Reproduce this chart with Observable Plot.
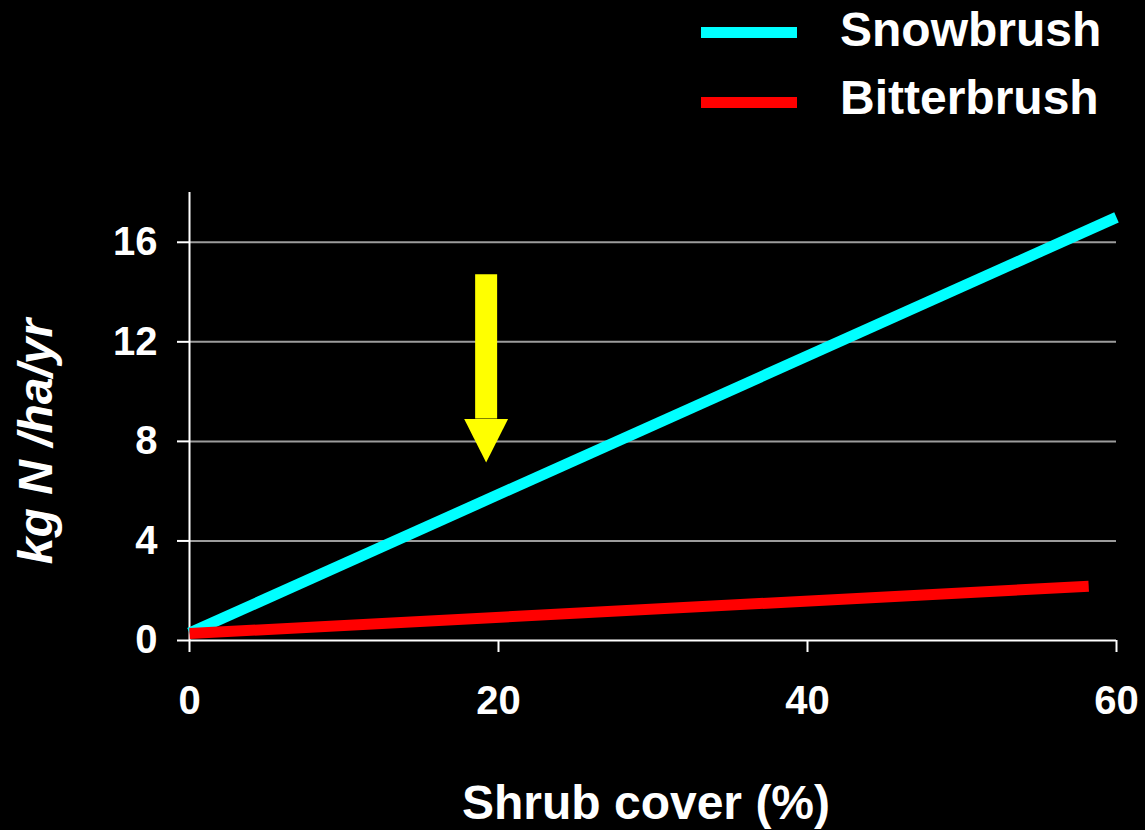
<!DOCTYPE html>
<html>
<head>
<meta charset="utf-8">
<script src="https://cdn.jsdelivr.net/npm/d3@7"></script>
<script src="https://cdn.jsdelivr.net/npm/@observablehq/plot@0.6"></script>
<style>
  html, body { margin: 0; padding: 0; background: #000; }
  body { width: 1145px; height: 830px; overflow: hidden; font-family: "Liberation Sans", Arial, sans-serif; }
  #legend { position: relative; height: 140px; width: 1145px; }
  .sw { position: absolute; left: 701px; width: 96px; height: 11px; }
  .lt { position: absolute; left: 840px; font-size: 48px; line-height: 48px; font-weight: bold; color: #fff; white-space: nowrap; }
</style>
</head>
<body>
<div id="legend"></div>
<div id="chart"></div>
<script>
// ---- data ----
const seriesNames = ["Snowbrush", "Bitterbrush"];
const seriesColors = ["#00ffff", "#ff0000"];
const shrubCover = {
  Snowbrush: [0, 60],
  Bitterbrush: [0, 58.2]
};
const nFixation = {
  Snowbrush: [0.3, 17.0],
  Bitterbrush: [0.28, 2.18]
};
const yTicks = [0, 4, 8, 12, 16];
const xTicks = [0, 20, 40, 60];
const xLabel = "Shrub cover (%)";
const yLabel = "kg N /ha/yr";
// yellow annotation arrow (data units)
const arrowX = [19.2];
const arrowTop = [14.7];
const arrowBase = [8.9];
const arrowTip = [7.15];
const arrowHalfWidth = [1.42];

// ---- table ----
const rows = [];
seriesNames.forEach(s => {
  shrubCover[s].forEach((x, i) => rows.push({series: s, x, y: nFixation[s][i]}));
});
const arrow = arrowX.map((x, i) => ({x, top: arrowTop[i], base: arrowBase[i], tip: arrowTip[i], hw: arrowHalfWidth[i]}));
const head = arrow.flatMap(a => [
  {x: a.x - a.hw, y: a.base},
  {x: a.x, y: a.tip},
  {x: a.x + a.hw, y: a.base}
]);

// ---- legend ----
const legend = document.getElementById("legend");
seriesNames.forEach((s, i) => {
  const sw = document.createElement("div");
  sw.className = "sw";
  sw.style.top = (27 + i * 70) + "px";
  sw.style.background = seriesColors[i];
  legend.appendChild(sw);
  const t = document.createElement("span");
  t.className = "lt";
  t.style.top = (6 + i * 68) + "px";
  t.textContent = s;
  legend.appendChild(t);
});

// ---- chart ----
const chart = Plot.plot({
  width: 1145,
  height: 690,
  marginLeft: 189,
  marginRight: 29,
  marginTop: 52,
  marginBottom: 190,
  style: {
    background: "#000",
    color: "#fff",
    fontFamily: "'Liberation Sans', Arial, sans-serif",
    fontSize: "40px",
    fontWeight: "bold",
    overflow: "visible"
  },
  x: {domain: [0, 60]},
  y: {domain: [0, 18]},
  color: {domain: seriesNames, range: seriesColors},
  marks: [
    Plot.gridY(yTicks.filter(d => d > 0), {stroke: "#9c9c9c", strokeOpacity: 1, strokeWidth: 2}),
    Plot.axisY({ticks: yTicks, tickSize: 12, tickPadding: 20, strokeWidth: 2, label: null, tickFormat: d => String(d)}),
    Plot.axisX({ticks: xTicks, tickSize: 12, tickPadding: 33, strokeWidth: 2, label: null, tickFormat: d => String(d)}),
    Plot.ruleX([0], {y1: 0, y2: 18, stroke: "#fff", strokeWidth: 2}),
    Plot.ruleY([0], {x1: 0, x2: 60, stroke: "#fff", strokeWidth: 2}),
    Plot.line(rows, {x: "x", y: "y", z: "series", stroke: "series", strokeWidth: 11, strokeLinecap: "butt", strokeLinejoin: "miter"}),
    Plot.ruleX(arrow, {x: "x", y1: "top", y2: "base", stroke: "#ffff00", strokeWidth: 22}),
    Plot.line(head, {x: "x", y: "y", fill: "#ffff00", stroke: "none"}),
    Plot.text([yLabel], {frameAnchor: "left", text: d => d, rotate: -90, textAnchor: "middle", lineAnchor: "bottom", dx: -138, dy: 25, fontSize: 48, fontStyle: "italic", fontWeight: "bold", fill: "#fff"}),
    Plot.text([xLabel], {frameAnchor: "bottom", text: d => d, textAnchor: "middle", lineAnchor: "bottom", dx: -7, dy: 178, fontSize: 48, fontWeight: "bold", fill: "#fff"})
  ]
});
document.getElementById("chart").appendChild(chart);
</script>
</body>
</html>
